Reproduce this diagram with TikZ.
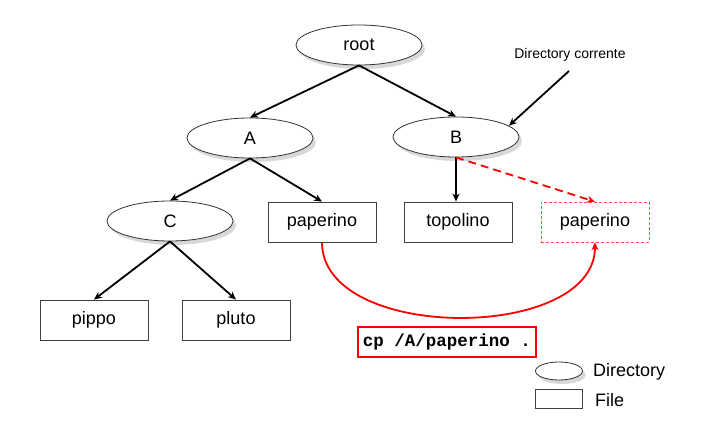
\documentclass[tikz,border=0pt]{standalone}
\usepackage{fontspec}
\setmainfont{Liberation Sans}
\setmonofont{Liberation Mono}
\usetikzlibrary{shapes.geometric,arrows.meta,shadows}
\begin{document}
\begin{tikzpicture}[x=1pt,y=-1pt,
  shd/.style={drop shadow={shadow xshift=3pt,shadow yshift=-4pt,fill=black!30,opacity=0.5}},
  dir/.style={ellipse,draw=black!80,line width=0.8pt,fill=white,minimum width=126pt,minimum height=40pt,inner sep=0pt,font=\fontsize{18}{20}\selectfont,shd},
  file/.style={rectangle,draw=black!75,line width=0.8pt,fill=white,minimum width=108pt,minimum height=40pt,inner sep=0pt,font=\fontsize{18}{20}\selectfont},
  edge/.style={line width=1.8pt,-{Stealth[length=8pt,width=7pt]}},
  lbl/.style={inner sep=0pt,font=\fontsize{18}{20}\selectfont},
]
\useasboundingbox (0,0) rectangle (724,427);
\node[dir] (root) at (359,45) {root};
\node[dir] (A) at (250,138) {A};
\node[dir] (B) at (456,137) {B};
\node[dir] (C) at (170,221) {C};
\node[file] (pap) at (322,222) {paperino};
\node[file] (topo) at (458,222) {topolino};
\node[file,draw=red!70,densely dashed,line width=0.6pt] (pap2) at (595,222) {paperino};
\node[file] (pippo) at (94,320) {pippo};
\node[file] (pluto) at (236,320) {pluto};

\node[inner sep=0pt,font=\fontsize{14}{16}\selectfont] (dc) at (570,55) {Directory corrente};
\coordinate (dcs) at (569,71);
\draw[edge] (dcs) -- (B.12);

\draw[edge] (root.south) -- (A.north);
\draw[edge] (root.south) -- (B.north);
\draw[edge] (A.south) -- (C.north);
\draw[edge] (A.south) -- (pap.north);
\draw[edge] (C.south) -- (pippo.north);
\draw[edge] (C.south) -- (pluto.north);
\draw[edge] (B.south) -- (B.south |- topo.north);
\draw[edge,red,dash pattern=on 8pt off 5pt] (B.south) -- (pap2.north);
\draw[edge,red] (pap.south) .. controls +(0,100) and +(0,100) .. (pap2.south);

\node[draw=red,line width=2.2pt,minimum width=178pt,minimum height=30pt,inner sep=0pt,font=\ttfamily\bfseries\fontsize{17.5}{20}\selectfont] (cp) at (447,342) {cp /A/paperino .};

\node[ellipse,draw=black!80,line width=0.8pt,fill=white,minimum width=47pt,minimum height=18pt,inner sep=0pt,shd] (ld) at (559,371) {};
\node[lbl,anchor=west] (ldt) at (593,372) {Directory};
\node[rectangle,draw=black!75,line width=0.8pt,minimum width=47pt,minimum height=19pt,inner sep=0pt] (lf) at (559,399) {};
\node[lbl,anchor=west] (lft) at (595,400) {File};
\end{tikzpicture}
\end{document}
